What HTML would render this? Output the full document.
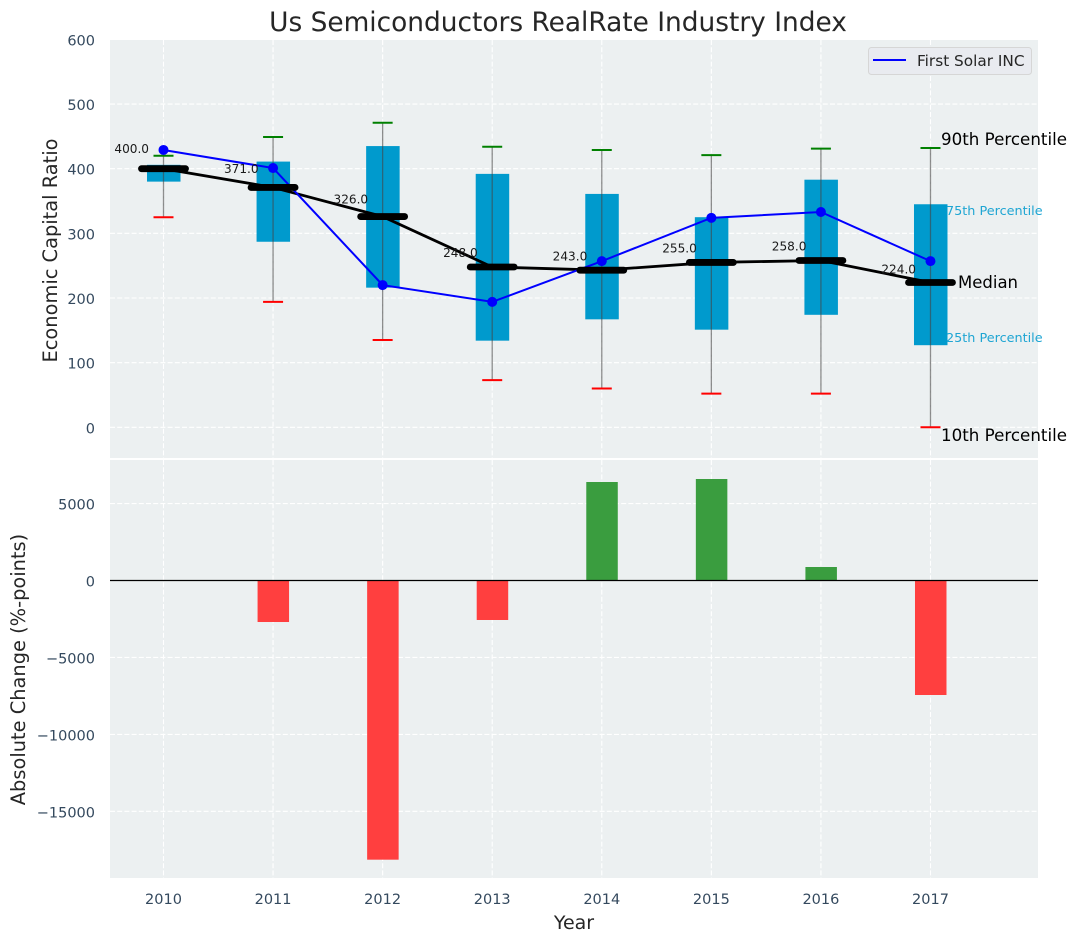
<!DOCTYPE html>
<html lang="en">
<head>
<meta charset="utf-8">
<title>Us Semiconductors RealRate Industry Index</title>
<style>
html,body{margin:0;padding:0;background:#fff;width:1076px;height:942px;overflow:hidden}
svg{display:block;font-family:"DejaVu Sans","Liberation Sans",sans-serif}
</style>
</head>
<body>
<svg id="chart" xmlns="http://www.w3.org/2000/svg" width="1076" height="942" viewBox="0 0 1076 942">
  <rect x="0" y="0" width="1076" height="942" fill="#ffffff"/>
  <text x="558" y="31" font-size="26.4px" text-anchor="middle" fill="#262626">Us Semiconductors RealRate Industry Index</text>
  <rect x="110" y="40" width="928" height="418" fill="#ecf0f1"/>
  <rect x="110" y="460" width="928" height="418" fill="#ecf0f1"/>
  <g id="grid"></g>
  <g id="ticks"></g>
  <g id="boxes"></g>
  <g id="bars"></g>
  <text transform="translate(57,250.5) rotate(-90)" font-size="19.4px" text-anchor="middle" fill="#262626">Economic Capital Ratio</text>
  <text transform="translate(25,669.5) rotate(-90)" font-size="19.4px" text-anchor="middle" fill="#262626">Absolute Change (%-points)</text>
  <text x="574" y="929" font-size="19px" text-anchor="middle" fill="#262626">Year</text>
  <g>
    <rect x="868.5" y="47.5" width="163" height="27" rx="3" fill="#e9ebf0" stroke="#d6d6d6" stroke-width="1"/>
    <line x1="873" y1="60" x2="906" y2="60" stroke="#0000ff" stroke-width="2"/>
    <text x="917" y="66" font-size="15.3px" fill="#262626">First Solar INC</text>
  </g>
  <text x="941" y="145" font-size="16.7px" fill="#000000">90th Percentile</text>
  <text x="946" y="215" font-size="12.8px" fill="#1ea5d3">75th Percentile</text>
  <text x="958" y="288" font-size="16.5px" fill="#000000">Median</text>
  <text x="946" y="342" font-size="12.8px" fill="#1ea5d3">25th Percentile</text>
  <text x="941" y="441" font-size="16.7px" fill="#000000">10th Percentile</text>
</svg>
<script>
const years = [2010, 2011, 2012, 2013, 2014, 2015, 2016, 2017];
const p90 = [420, 449, 471, 434, 429, 421, 431, 432];
const p75 = [406, 411, 435, 392, 361, 325, 383, 345];
const medians = [400, 371, 326, 248, 243, 255, 258, 224];
const p25 = [380, 287, 216, 134, 167, 151, 174, 127];
const p10 = [325, 194, 135, 73, 60, 52, 52, 0];
const firstSolar = [429, 401, 220, 194, 257, 324, 333, 257];
const changes = [0, -2697, -18140, -2566, 6400, 6595, 877, -7440];
const topTicks = [0, 100, 200, 300, 400, 500, 600];
const bottomTicks = [-15000, -10000, -5000, 0, 5000];

const NS = 'http://www.w3.org/2000/svg';
const xScale = function (year) { return 163.5 + (year - 2010) * 109.57; };
const yTop = function (v) { return 427.3 - v * 0.6465; };
const yBottom = function (v) { return 580.5 - v * 0.01539; };
const gridG = document.getElementById('grid');
const ticksG = document.getElementById('ticks');
const boxesG = document.getElementById('boxes');
const barsG = document.getElementById('bars');

function seg(parent, x1, y1, x2, y2, stroke, width) {
  const el = document.createElementNS(NS, 'line');
  el.setAttribute('x1', x1);
  el.setAttribute('y1', y1);
  el.setAttribute('x2', x2);
  el.setAttribute('y2', y2);
  el.setAttribute('stroke', stroke);
  el.setAttribute('stroke-width', width);
  parent.appendChild(el);
  return el;
}
function label(parent, x, y, str, size, anchor, fill) {
  const el = document.createElementNS(NS, 'text');
  el.setAttribute('x', x);
  el.setAttribute('y', y);
  el.setAttribute('font-size', size + 'px');
  el.setAttribute('text-anchor', anchor);
  el.setAttribute('fill', fill);
  el.textContent = str;
  parent.appendChild(el);
  return el;
}
function pathFrom(parent, values, stroke, width) {
  const d = values.map(function (v, i) {
    return (i ? 'L' : 'M') + xScale(years[i]) + ' ' + yTop(v);
  }).join(' ');
  const el = document.createElementNS(NS, 'path');
  el.setAttribute('d', d);
  el.setAttribute('fill', 'none');
  el.setAttribute('stroke', stroke);
  el.setAttribute('stroke-width', width);
  parent.appendChild(el);
  return el;
}
function fmt(v) { return String(v).replace('-', '\u2212'); }

// grid lines and tick labels
years.forEach(function (yr) {
  const x = xScale(yr);
  const a = seg(gridG, x, 40, x, 458, '#ffffff', 1.1);
  a.setAttribute('stroke-dasharray', '5 2.2');
  
  
  const b = seg(gridG, x, 460, x, 878, '#ffffff', 1.1);
  b.setAttribute('stroke-dasharray', '5 2.2');
  
  
  const t = label(ticksG, x, 904, String(yr), 14.5, 'middle', '#34495e');
  
  
});
topTicks.forEach(function (v) {
  const y = yTop(v);
  const g = seg(gridG, 110, y, 1038, y, '#ffffff', 1.1);
  g.setAttribute('stroke-dasharray', '5 2.2');
  
  
  const t = label(ticksG, 95, y + 6, fmt(v), 14.5, 'end', '#34495e');
  
  
});
bottomTicks.forEach(function (v) {
  const y = yBottom(v);
  const g = seg(gridG, 110, y, 1038, y, '#ffffff', 1.1);
  g.setAttribute('stroke-dasharray', '5 2.2');
  
  
  const t = label(ticksG, 95, y + 6, fmt(v), 14.5, 'end', '#34495e');
  
  
});

// boxes
years.forEach(function (yr, i) {
  const x = xScale(yr);
  const box = document.createElementNS(NS, 'rect');
  box.setAttribute('x', x - 16.5);
  box.setAttribute('y', yTop(p75[i]));
  box.setAttribute('width', 33.5);
  box.setAttribute('height', yTop(p25[i]) - yTop(p75[i]));
  box.setAttribute('fill', '#009acd');
  
  
  boxesG.appendChild(box);
  const w = seg(boxesG, x, yTop(p90[i]), x, yTop(p10[i]), '#444444', 1.3);
  w.setAttribute('stroke-opacity', '0.6');
  
  
  const hi = seg(boxesG, x - 10, yTop(p90[i]), x + 10, yTop(p90[i]), '#008000', 2);
  
  
  const lo = seg(boxesG, x - 10, yTop(p10[i]), x + 10, yTop(p10[i]), '#ff0000', 2);
  
  
});

// median trend and first solar line
const medLine = pathFrom(boxesG, medians, '#000000', 2.8);


const solarLine = pathFrom(boxesG, firstSolar, '#0000ff', 2);


years.forEach(function (yr, i) {
  const x = xScale(yr);
  const m = seg(boxesG, x - 22, yTop(medians[i]), x + 22, yTop(medians[i]), '#000000', 6.8);
  m.setAttribute('stroke-linecap', 'round');
  
  
  const c = document.createElementNS(NS, 'circle');
  c.setAttribute('cx', x);
  c.setAttribute('cy', yTop(firstSolar[i]));
  c.setAttribute('r', 5);
  c.setAttribute('fill', '#0000ff');
  
  
  boxesG.appendChild(c);
  const t = label(boxesG, x - 14.5, yTop(medians[i] * 1.06 + 8) + 5, medians[i].toFixed(1), 12.1, 'end', '#1a1a1a');
  
  
});

// change bars
years.forEach(function (yr, i) {
  if (!changes[i]) return;
  const x = xScale(yr);
  const y0 = yBottom(0);
  const y1 = yBottom(changes[i]);
  const bar = document.createElementNS(NS, 'rect');
  bar.setAttribute('x', x - 15.5);
  bar.setAttribute('y', Math.min(y0, y1));
  bar.setAttribute('width', 31.5);
  bar.setAttribute('height', Math.abs(y1 - y0));
  bar.setAttribute('fill', changes[i] > 0 ? '#3a9d3f' : '#ff3f3f');
  
  
  barsG.appendChild(bar);
});
const zero = seg(barsG, 110, yBottom(0), 1038, yBottom(0), '#000000', 1.3);


</script>
</body>
</html>
